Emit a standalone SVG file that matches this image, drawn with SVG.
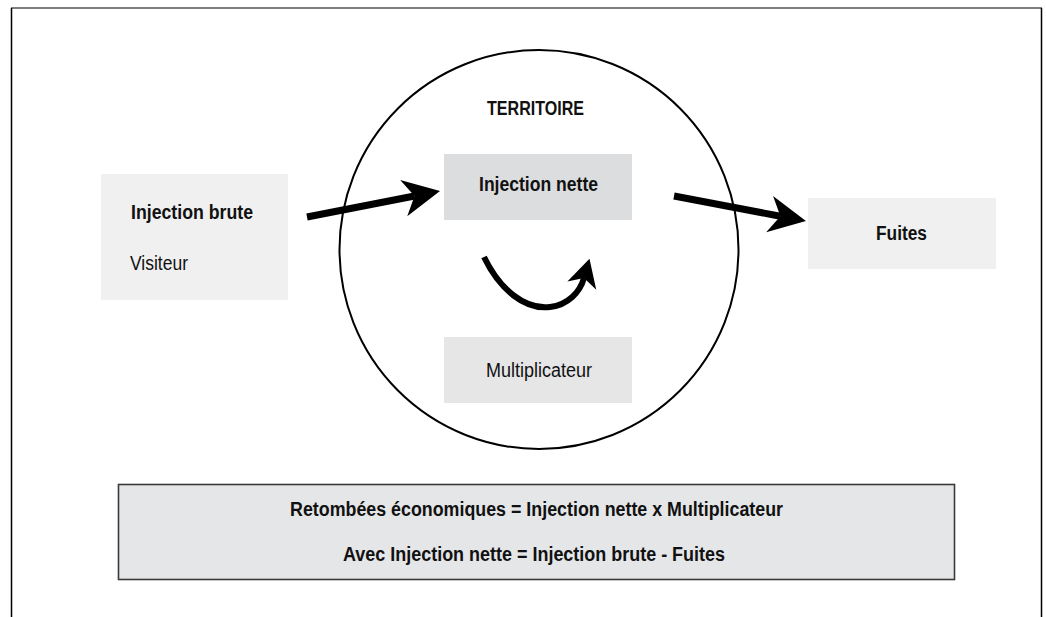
<svg xmlns="http://www.w3.org/2000/svg" width="1046" height="617" viewBox="0 0 1046 617">
<style>
text{font-family:"Liberation Sans Narrow","Liberation Sans",Arial,sans-serif;font-size:19.5px;fill:#111}
.b{font-weight:bold}
.arrow{fill:none;stroke:#000}
</style>
<defs>
<marker id="head" markerUnits="userSpaceOnUse" viewBox="-40 -20 42 40" refX="-26" refY="0" markerWidth="42" markerHeight="40" orient="auto">
<path d="M0,0 L-37,-18.5 L-26,0 L-37,18.5 Z" fill="#000"/>
</marker>
<marker id="headS" markerUnits="userSpaceOnUse" viewBox="-32 -17 34 34" refX="-20" refY="0" markerWidth="34" markerHeight="34" orient="auto">
<path d="M0,0 L-28,-15 L-20,0 L-28,15 Z" fill="#000"/>
</marker>
</defs>
<rect width="1046" height="617" fill="#fff"/>
<g id="frame">
<line x1="11" y1="8" x2="1042" y2="8" stroke="#555" stroke-width="1.6"/>
<line x1="11.5" y1="8" x2="11.5" y2="617" stroke="#000" stroke-width="1.5"/>
<line x1="1041.5" y1="8" x2="1041.5" y2="617" stroke="#000" stroke-width="1.5"/>
</g>
<g id="territoire">
<circle cx="539" cy="249.5" r="199.5" fill="none" stroke="#000" stroke-width="2"/>
<text class="b" x="487" y="115" textLength="97" lengthAdjust="spacingAndGlyphs">TERRITOIRE</text>
</g>
<g id="injection-brute">
<rect x="101" y="174" width="187" height="126" fill="#f0f0f0"/>
<text class="b" x="131" y="219" textLength="122" lengthAdjust="spacingAndGlyphs">Injection brute</text>
<text x="130" y="270" textLength="58" lengthAdjust="spacingAndGlyphs">Visiteur</text>
</g>
<g id="injection-nette">
<rect x="444" y="154" width="188" height="66" fill="#dcdddf"/>
<text class="b" x="479" y="191" textLength="119" lengthAdjust="spacingAndGlyphs">Injection nette</text>
</g>
<g id="multiplicateur">
<rect x="444" y="337" width="188" height="66" fill="#e6e6e7"/>
<text x="486" y="376.5" textLength="106" lengthAdjust="spacingAndGlyphs">Multiplicateur</text>
</g>
<g id="fuites">
<rect x="808" y="198" width="188" height="71" fill="#f0f0f0"/>
<text class="b" x="876" y="240" textLength="51" lengthAdjust="spacingAndGlyphs">Fuites</text>
</g>
<g id="formule">
<rect x="118.5" y="484.5" width="836" height="95" fill="#e5e6e8" stroke="#3a3a3a" stroke-width="1.6"/>
<text class="b" x="290" y="516" textLength="493" lengthAdjust="spacingAndGlyphs">Retombées économiques = Injection nette x Multiplicateur</text>
<text class="b" x="343" y="561" textLength="382" lengthAdjust="spacingAndGlyphs">Avec Injection nette = Injection brute - Fuites</text>
</g>
<g id="connectors">
<line class="arrow" x1="307" y1="217" x2="414.5" y2="196" stroke-width="7" marker-end="url(#head)"/>
<line class="arrow" x1="674" y1="196" x2="780.4" y2="216.2" stroke-width="7" marker-end="url(#head)"/>
<path class="arrow" d="M484,257 C500,290 525,310 550,307 C568,305 580,292 584,278" stroke-width="6" marker-end="url(#headS)"/>
</g>
</svg>
